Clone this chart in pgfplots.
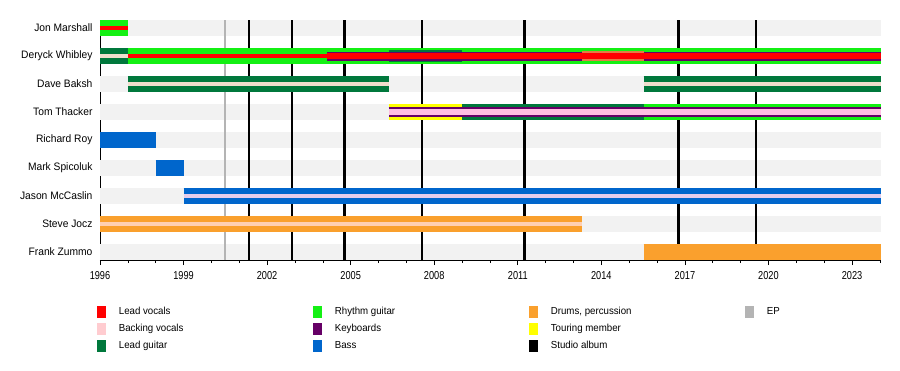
\documentclass[border=0pt]{standalone}
\usepackage{fontspec}
\setmainfont{Liberation Sans}[FakeStretch=0.95]
\newfontfamily\tickfont{Liberation Sans}[FakeStretch=0.8]
\usepackage{pgfplots}
\pgfplotsset{compat=1.18}
\definecolor{lv}{RGB}{255,0,0}
\definecolor{bv}{RGB}{255,204,208}
\definecolor{lg}{RGB}{0,120,60}
\definecolor{rg}{RGB}{20,240,20}
\definecolor{kb}{RGB}{102,0,102}
\definecolor{bs}{RGB}{0,102,204}
\definecolor{dr}{RGB}{250,160,45}
\definecolor{drmix}{RGB}{225,125,70}
\definecolor{tm}{RGB}{255,255,0}
\definecolor{ep}{RGB}{180,180,180}
\definecolor{band}{RGB}{242,242,242}
\definecolor{bvdave}{RGB}{240,222,205}
\definecolor{bvjason}{RGB}{230,205,235}
\definecolor{bvsteve}{RGB}{255,208,178}
\definecolor{bvtom}{RGB}{255,190,225}
\pgfplotsset{
  seg/.style 2 args={forget plot, draw=#1, line width=#2, mark=none},
  sq/.style={legend image code/.code={\fill[##1, draw=none] (0pt,-6pt) rectangle (9pt,6pt);}},
}
\begin{document}
\begin{tikzpicture}
\useasboundingbox (0,0) rectangle (900pt,370pt);
\begin{axis}[
  at={(100pt,110pt)}, anchor=south west,
  scale only axis, width=781pt, height=240pt,
  xmin=1996, xmax=2024.04, ymin=0.714, ymax=9.286,
  enlargelimits=false,
  axis lines=left, axis line style={-, line width=0.8pt},
  xtick={1996,1999,...,2023}, minor xtick={1996,...,2024},
  tick align=outside, major tick length=5pt, minor tick length=3pt,
  tick style={black, line width=0.6pt},
  /pgf/number format/assume math mode=true,
  xticklabel style={font=\tickfont\fontsize{11.5}{12}\selectfont, yshift=-3pt, /pgf/number format/1000 sep={}},
  ytick={1,...,9},
  yticklabels={Frank Zummo, Steve Jocz, Jason McCaslin, Mark Spicoluk, Richard Roy, Tom Thacker, Dave Baksh, Deryck Whibley, Jon Marshall},
  ytick style={draw=none},
  yticklabel style={font=\fontsize{10.8}{12}\selectfont, xshift=1pt},
  legend columns=4,
  legend cell align=left,
  legend style={at={(-0.004,-0.191)}, anchor=north west, draw=none, fill=none,
    inner sep=0pt, outer sep=0pt, row sep=5pt, column sep=0pt,
    nodes={inner sep=0pt, font=\fontsize{10.2}{12}\selectfont},
    /tikz/every odd column/.append style={column sep=13pt}},
]
% row bands
\addplot[seg={band}{16pt}] coordinates {(1996,9) (2024.04,9)};
\addplot[seg={band}{16pt}] coordinates {(1996,8) (2024.04,8)};
\addplot[seg={band}{16pt}] coordinates {(1996,7) (2024.04,7)};
\addplot[seg={band}{16pt}] coordinates {(1996,6) (2024.04,6)};
\addplot[seg={band}{16pt}] coordinates {(1996,5) (2024.04,5)};
\addplot[seg={band}{16pt}] coordinates {(1996,4) (2024.04,4)};
\addplot[seg={band}{16pt}] coordinates {(1996,3) (2024.04,3)};
\addplot[seg={band}{16pt}] coordinates {(1996,2) (2024.04,2)};
\addplot[seg={band}{16pt}] coordinates {(1996,1) (2024.04,1)};
% releases
\addplot[forget plot, ycomb, mark=none, draw=ep, line width=2.6pt] coordinates {(2000.49,9.3)};
\addplot[forget plot, ycomb, mark=none, draw=black, line width=2.6pt] coordinates {(2001.35,9.3) (2002.9,9.3) (2004.78,9.3) (2007.56,9.3) (2011.24,9.3) (2016.77,9.3) (2019.55,9.3)};
% Jon Marshall
\addplot[seg={rg}{16pt}] coordinates {(1996,9) (1997.0,9)};
\addplot[seg={lv}{3.5pt}] coordinates {(1996,9) (1997.0,9)};
% Deryck Whibley
\addplot[seg={lg}{16pt}] coordinates {(1996,8) (1997.0,8)};
\addplot[seg={bvdave}{3.5pt}] coordinates {(1996,8) (1997.0,8)};
\addplot[seg={rg}{16pt}] coordinates {(1997.0,8) (2024.04,8)};
\addplot[seg={lv}{3.5pt}] coordinates {(1997.0,8) (2004.14,8)};
\addplot[seg={lg}{11.5pt}] coordinates {(2006.36,8) (2009.0,8)};
\addplot[seg={kb}{9pt}] coordinates {(2004.14,8) (2024.04,8)};
\addplot[seg={drmix}{9.5pt}] coordinates {(2013.3,8) (2015.52,8)};
\addplot[seg={lv}{5.5pt}] coordinates {(2004.14,8) (2024.04,8)};
% Dave Baksh
\addplot[seg={lg}{16pt}] coordinates {(1997.0,7) (2006.36,7)};
\addplot[seg={bvdave}{3.5pt}] coordinates {(1997.0,7) (2006.36,7)};
\addplot[seg={lg}{16pt}] coordinates {(2015.52,7) (2024.04,7)};
\addplot[seg={bvdave}{3.5pt}] coordinates {(2015.52,7) (2024.04,7)};
% Tom Thacker
\addplot[seg={tm}{16pt}] coordinates {(2006.36,6) (2009.0,6)};
\addplot[seg={lg}{16pt}] coordinates {(2009.0,6) (2015.52,6)};
\addplot[seg={rg}{16pt}] coordinates {(2015.52,6) (2024.04,6)};
\addplot[seg={kb}{10.5pt}] coordinates {(2006.36,6) (2024.04,6)};
\addplot[seg={bvtom}{5.5pt}] coordinates {(2006.36,6) (2024.04,6)};
% Richard Roy
\addplot[seg={bs}{16pt}] coordinates {(1996,5) (1998.0,5)};
% Mark Spicoluk
\addplot[seg={bs}{16pt}] coordinates {(1998.0,4) (1999.0,4)};
% Jason McCaslin
\addplot[seg={bs}{16pt}] coordinates {(1999.0,3) (2024.04,3)};
\addplot[seg={bvjason}{3.5pt}] coordinates {(1999.0,3) (2024.04,3)};
% Steve Jocz
\addplot[seg={dr}{16pt}] coordinates {(1996,2) (2013.3,2)};
\addplot[seg={bvsteve}{3.5pt}] coordinates {(1996,2) (2013.3,2)};
% Frank Zummo
\addplot[seg={dr}{16pt}] coordinates {(2015.52,1) (2024.04,1)};
% legend (row-major, 4 columns)
\addlegendimage{sq, fill=lv}
\addlegendentry{\makebox[194pt][l]{Lead vocals}}
\addlegendimage{sq, fill=rg}
\addlegendentry{\makebox[194pt][l]{Rhythm guitar}}
\addlegendimage{sq, fill=dr}
\addlegendentry{\makebox[194pt][l]{Drums, percussion}}
\addlegendimage{sq, fill=ep}
\addlegendentry{EP}
\addlegendimage{sq, fill=bv}
\addlegendentry{\makebox[194pt][l]{Backing vocals}}
\addlegendimage{sq, fill=kb}
\addlegendentry{\makebox[194pt][l]{Keyboards}}
\addlegendimage{sq, fill=tm}
\addlegendentry{\makebox[194pt][l]{Touring member}}
\addlegendimage{empty legend}
\addlegendentry{}
\addlegendimage{sq, fill=lg}
\addlegendentry{\makebox[194pt][l]{Lead guitar}}
\addlegendimage{sq, fill=bs}
\addlegendentry{\makebox[194pt][l]{Bass}}
\addlegendimage{sq, fill=black}
\addlegendentry{\makebox[194pt][l]{Studio album}}
\end{axis}
\end{tikzpicture}
\end{document}
